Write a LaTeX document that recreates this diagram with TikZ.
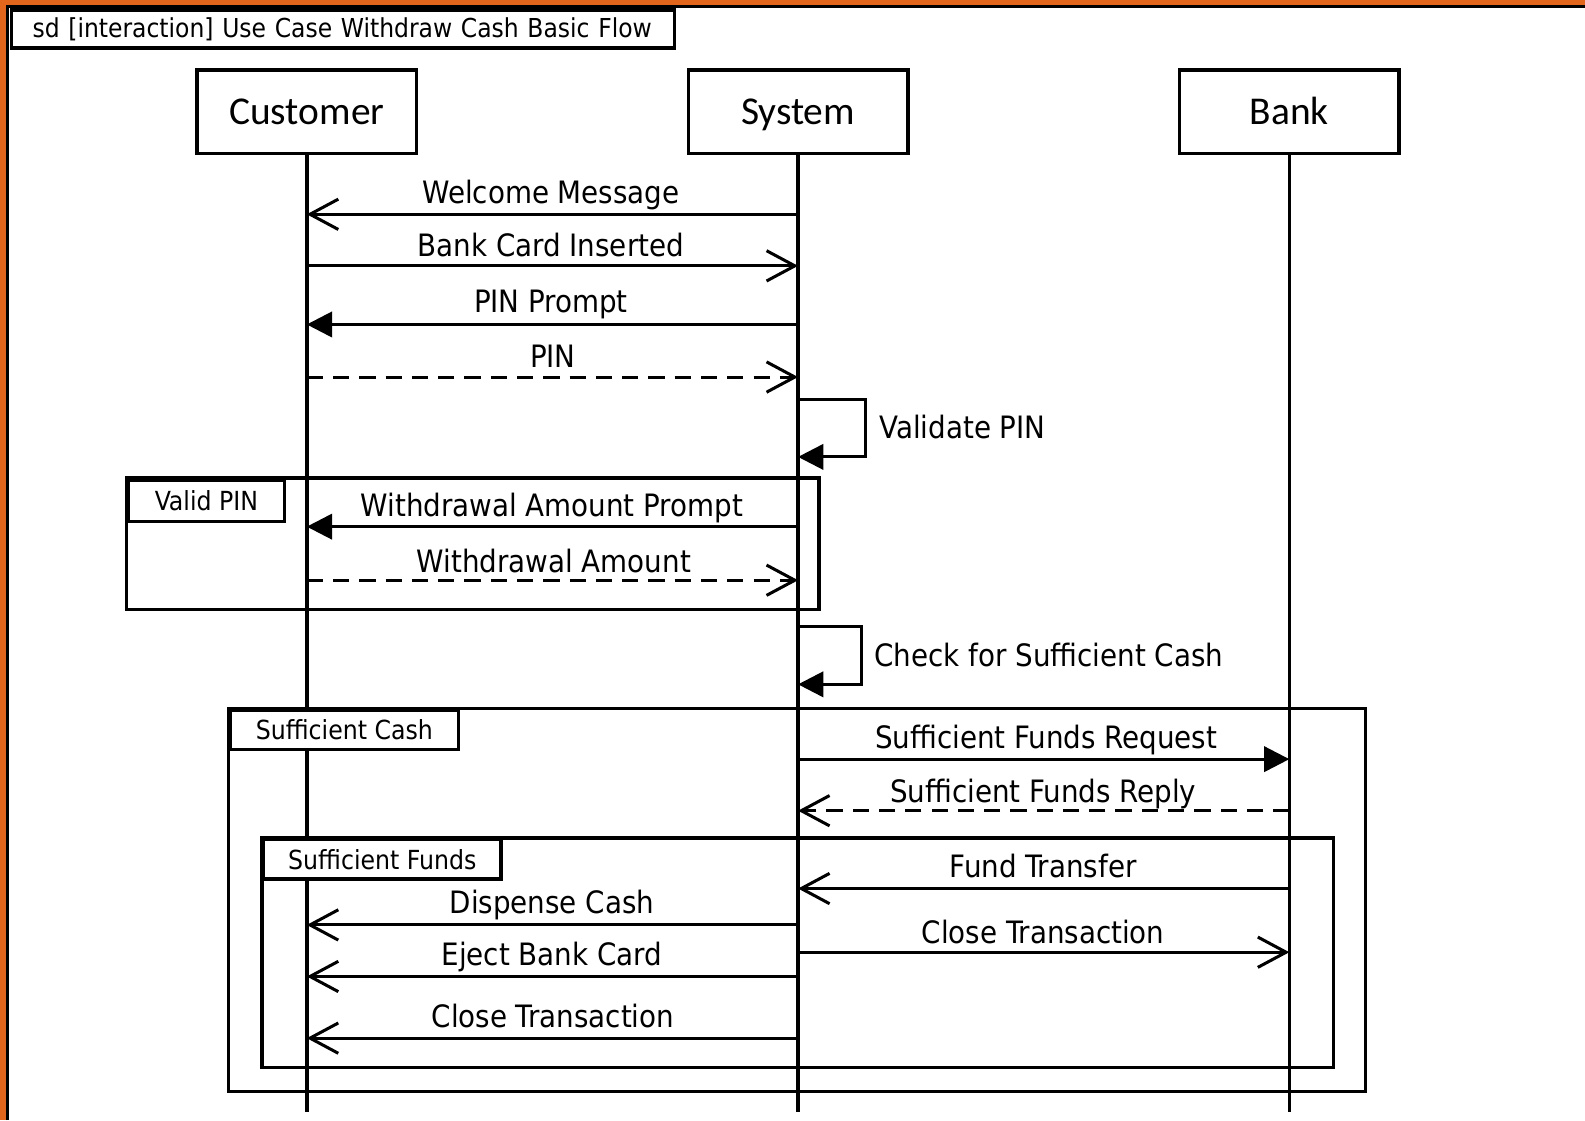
\documentclass[tikz,border=0pt]{standalone}
\usepackage{fontspec}
\setmainfont{DejaVu Sans Condensed}
\newfontfamily\headfont{Carlito}
\usetikzlibrary{arrows.meta}
\definecolor{rim}{RGB}{226,102,28}
\begin{document}
\begin{tikzpicture}[x=1pt,y=-1pt,
  head/.style={draw, line width=3.5pt, minimum width=217pt, minimum height=83pt,
    inner sep=0pt, text height=25pt, text depth=0pt,
    font=\headfont\fontsize{39}{44}\selectfont},
  life/.style={line width=3.4pt},
  msg/.style={line width=3pt, -{Straight Barb[length=28pt,width=30pt,line width=3pt]}},
  call/.style={line width=3pt, -{Triangle[length=25pt,width=25pt]}},
  reply/.style={msg, dash pattern=on 16pt off 10pt},
  lbl/.style={anchor=base, inner sep=0pt, font=\fontsize{30.5}{36}\selectfont},
  fragment/.style={draw, line width=3.4pt},
  tag/.style={draw, fill=white, line width=3.4pt, anchor=north west, inner sep=0pt,
    font=\fontsize{26}{30}\selectfont}
]
\useasboundingbox (0,0) rectangle (1568,1108);
\fill[white] (0,0) rectangle (1568,1108);

% window rim
\fill[rim] (0,0) rectangle (1568,5);
\fill[rim] (0,0) rectangle (6,1108);
\draw[line width=2.5pt] (7.2,1108) -- (7.2,6.2) -- (1568,6.2);

% diagram title
\node[draw, line width=3.4pt, anchor=north west, minimum height=38pt, text width=614pt,
  inner xsep=21pt, inner ysep=0pt, align=left, font=\fontsize{25.8}{30}\selectfont]
  (title) at (9.5,8) {sd [interaction] Use Case Withdraw Cash Basic Flow};

% combined fragments
\draw[fragment] (125,473) rectangle (810,603);
\draw[fragment] (226,701) rectangle (1351,1080);
\draw[fragment] (259,829) rectangle (1319,1056);

% lifeline heads
\node[head] (cust) at (303.5,110.5) {Customer};
\node[head] (sys)  at (789.5,110.5) {System};
\node[head] (bank) at (1275.5,110.5) {Bank};

% lifelines
\draw[life] (cust.south) -- (cust |- 0,1100);
\draw[life] (sys.south) -- (sys |- 0,1100);
\draw[life] (bank.south) -- (bank |- 0,1100);

% fragment tags
\node[tag, minimum width=155pt, minimum height=41pt] (vpin) at (125,473) {Valid PIN};
\node[tag, minimum width=226pt, minimum height=39pt] (scash) at (226,701) {Sufficient Cash};
\node[tag, minimum width=235pt, minimum height=39pt] (sfunds) at (259,829) {Sufficient Funds};

% messages
\draw[msg] (sys |- 0,212) -- (cust |- 0,212);
\node[lbl] at (545,201) {Welcome Message};
\draw[msg] (cust |- 0,263) -- (sys |- 0,263);
\node[lbl] at (545,254) {Bank Card Inserted};
\draw[call] (sys |- 0,321) -- (cust |- 0,321);
\node[lbl] at (545,309) {PIN Prompt};
\draw[reply] (cust |- 0,373) -- (sys |- 0,373);
\node[lbl] at (547,364) {PIN};

\draw[call] (sys |- 0,395) -- (856,395) -- (856,452) -- (sys |- 0,452);
\node[lbl, anchor=base west] at (870,434) {Validate PIN};

\draw[call] (sys |- 0,521) -- (cust |- 0,521);
\node[lbl] at (546,511) {Withdrawal Amount Prompt};
\draw[reply] (cust |- 0,574) -- (sys |- 0,574);
\node[lbl] at (548,566) {Withdrawal Amount};

\draw[call] (sys |- 0,620) -- (852,620) -- (852,677) -- (sys |- 0,677);
\node[lbl, anchor=base west] at (865,659) {Check for Sufficient Cash};

\draw[call] (sys |- 0,751) -- (bank |- 0,751);
\node[lbl] at (1035,740) {Sufficient Funds Request};
\draw[reply] (bank |- 0,802) -- (sys |- 0,802);
\node[lbl] at (1032,794) {Sufficient Funds Reply};

\draw[msg] (bank |- 0,879) -- (sys |- 0,879);
\node[lbl] at (1032,868) {Fund Transfer};
\draw[msg] (sys |- 0,915) -- (cust |- 0,915);
\node[lbl] at (546,904) {Dispense Cash};
\draw[msg] (sys |- 0,942) -- (bank |- 0,942);
\node[lbl] at (1032,933) {Close Transaction};
\draw[msg] (sys |- 0,966) -- (cust |- 0,966);
\node[lbl] at (546,955) {Eject Bank Card};
\draw[msg] (sys |- 0,1027) -- (cust |- 0,1027);
\node[lbl] at (547,1016) {Close Transaction};
\end{tikzpicture}
\end{document}
